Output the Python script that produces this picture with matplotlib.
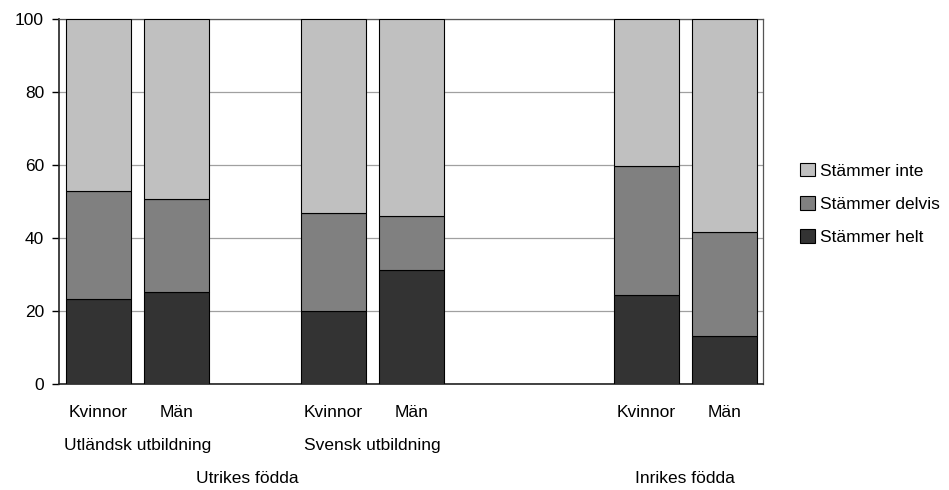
import numpy as np
import matplotlib.pyplot as plt
from matplotlib.transforms import blended_transform_factory

plt.rcParams['font.family'] = ['Liberation Sans', 'DejaVu Sans']

# slots 0..8, slots 2, 5, 6 are empty
positions = [0, 1, 3, 4, 7, 8]
sex_labels = ["Kvinnor", "Män", "Kvinnor", "Män", "Kvinnor", "Män"]
edu_labels = ["Utländsk utbildning", "Svensk utbildning"]
birth_labels = ["Utrikes födda", "Inrikes födda"]

helt = [23.2, 25.1, 20.0, 31.1, 24.3, 13.2]
delvis = [29.7, 25.7, 26.8, 15.0, 35.3, 28.4]
inte = [47.1, 49.2, 53.2, 53.9, 40.4, 58.4]

fig = plt.figure(figsize=(9.49, 4.90), dpi=100)
ax = fig.add_axes([0.0625, 0.2163, 0.7420, 0.7449])

w = 0.83
helt = np.array(helt)
delvis = np.array(delvis)
inte = np.array(inte)
b1 = ax.bar(positions, helt, w, color="#333333", edgecolor="black", linewidth=0.8, zorder=3)
b2 = ax.bar(positions, delvis, w, bottom=helt, color="#808080", edgecolor="black", linewidth=0.8, zorder=3)
b3 = ax.bar(positions, inte, w, bottom=helt + delvis, color="#c0c0c0", edgecolor="black", linewidth=0.8, zorder=3)

ax.set_xlim(-0.5, 8.5)
ax.set_ylim(0, 100)
ax.set_yticks([0, 20, 40, 60, 80, 100])
ax.yaxis.grid(True, color="#a0a0a0", linewidth=0.9, zorder=0)
ax.set_axisbelow(True)
ax.tick_params(axis="y", direction="out", length=5, width=1, labelsize=12.5, pad=6)
ax.set_xticks(positions)
ax.set_xticklabels(sex_labels, fontsize=12.5)
ax.tick_params(axis="x", length=0, pad=15)

for s in ["left", "bottom"]:
    ax.spines[s].set_color("#222222")
    ax.spines[s].set_linewidth(1.2)
for s in ["top", "right"]:
    ax.spines[s].set_color("#555555")
    ax.spines[s].set_linewidth(0.9)

trans = blended_transform_factory(ax.transData, ax.transAxes)
ax.text(0.5, -0.168, edu_labels[0], transform=trans, ha="center", va="center", fontsize=12.5)
ax.text(3.5, -0.168, edu_labels[1], transform=trans, ha="center", va="center", fontsize=12.5)
ax.text(1.9, -0.258, birth_labels[0], transform=trans, ha="center", va="center", fontsize=12.5)
ax.text(7.5, -0.258, birth_labels[1], transform=trans, ha="center", va="center", fontsize=12.5)

fig.legend([b3, b2, b1], ["Stämmer inte", "Stämmer delvis", "Stämmer helt"],
           loc="center left", bbox_to_anchor=(0.834, 0.584), frameon=False,
           fontsize=12.5, handlelength=0.85, handleheight=0.85, handletextpad=0.3,
           labelspacing=1.0, borderpad=0)

fig.savefig("out.png", dpi=100)
